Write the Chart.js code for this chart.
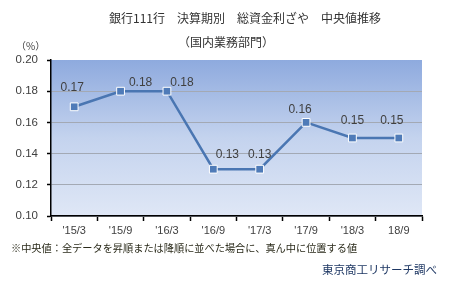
<!DOCTYPE html>
<html lang="ja">
<head>
  <meta charset="UTF-8">
  <title>総資金利ざや 中央値推移</title>
  <script src="https://cdn.jsdelivr.net/npm/chart.js"></script>
  <style>
    body {
      margin: 0;
      width: 449px;
      height: 282px;
      background: #fff;
      font-family: 'Noto Sans CJK JP', sans-serif;
      position: relative;
      overflow: hidden;
    }
    #wrap { position: absolute; left: 0; top: 0; width: 449px; height: 282px; }
    .txt { position: absolute; white-space: nowrap; color: #333; }
    #title { left: 0; width: 490px; top: 9px; text-align: center; font-size: 12px; }
    #sub { left: 0; width: 452px; top: 33px; text-align: center; font-size: 12px; }
    #unit { left: 16px; top: 38px; font-size: 10px; color: #404040; }
    #note { left: 11px; top: 240px; font-size: 10.2px; color: #2a2a1a; }
    #src { left: 322px; top: 261px; font-size: 11.5px; color: #1f3864; }
  </style>
</head>
<body>
  <div id="wrap"><canvas id="chart"></canvas></div>
  <div class="txt" id="title">銀行111行　決算期別　総資金利ざや　中央値推移</div>
  <div class="txt" id="sub">（国内業務部門）</div>
  <div class="txt" id="unit">（%）</div>
  <div class="txt" id="note">※中央値：全データを昇順または降順に並べた場合に、真ん中に位置する値</div>
  <div class="txt" id="src">東京商工リサーチ調べ</div>

  <script>
    const periods = ["'15/3", "'15/9", "'16/3", "'16/9", "'17/3", "'17/9", "'18/3", "18/9"];
    const medianSpread = [0.17, 0.18, 0.18, 0.13, 0.13, 0.16, 0.15, 0.15];
    const yTicks = [0.10, 0.12, 0.14, 0.16, 0.18, 0.20];

    // label nudges, like the Excel original
    const labelDx = [-2, 20, 15, 14, 0, -6, 0, -7];
    const labelDy = [-19, -9, -9, -15, -15, -13, -17, -17];

    const areaBg = {
      id: 'areaBg',
      beforeDraw(chart) {
        const { ctx, chartArea: a } = chart;
        const g = ctx.createLinearGradient(0, a.top, 0, a.bottom);
        g.addColorStop(0, '#8eaade');
        g.addColorStop(0.5, '#c4d3ee');
        g.addColorStop(1, '#dfe7f6');
        ctx.save();
        ctx.fillStyle = g;
        ctx.fillRect(a.left, a.top, a.right - a.left, a.bottom - a.top);
        ctx.restore();
      }
    };

    const valueLabels = {
      id: 'valueLabels',
      afterDatasetsDraw(chart) {
        const { ctx } = chart;
        const meta = chart.getDatasetMeta(0);
        ctx.save();
        ctx.font = '12px "Liberation Sans", Arial, sans-serif';
        ctx.fillStyle = '#404040';
        ctx.textAlign = 'center';
        ctx.textBaseline = 'middle';
        meta.data.forEach((pt, i) => {
          ctx.fillText(medianSpread[i].toFixed(2), pt.x + labelDx[i], pt.y + labelDy[i]);
        });
        ctx.restore();
      }
    };

    const isMajor = v => yTicks.some(t => Math.abs(t - v) < 1e-6);

    new Chart(document.getElementById('chart'), {
      type: 'line',
      data: {
        labels: periods,
        datasets: [{
          data: medianSpread,
          borderColor: '#4a76b2',
          borderWidth: 2.5,
          pointStyle: 'rect',
          pointRadius: 5.5,
          pointBackgroundColor: '#4f7bb8',
          pointBorderColor: '#ffffff',
          pointBorderWidth: 1,
          tension: 0
        }]
      },
      options: {
        responsive: true,
        maintainAspectRatio: false,
        animation: false,
        layout: { padding: { left: 0, top: 60, right: 27, bottom: 0 } },
        plugins: { legend: { display: false }, tooltip: { enabled: false } },
        scales: {
          x: {
            offset: true,
            afterFit: s => { s.height = 66; },
            border: { color: '#000', width: 1.5 },
            grid: { offset: true, drawOnChartArea: false, tickLength: 5, tickColor: '#000', tickWidth: 1.5 },
            ticks: { color: '#404040', padding: 3, font: { family: '"Liberation Sans", Arial', size: 11 } }
          },
          y: {
            min: 0.10,
            max: 0.20,
            afterFit: s => { s.width = 51; },
            afterBuildTicks: s => {
              s.ticks = [];
              for (let k = 10; k <= 20; k++) s.ticks.push({ value: k / 100 });
            },
            border: { color: '#000', width: 1.5 },
            grid: {
              color: ctx => ctx.tick && ctx.tick.value >= 0.195 ? 'rgba(0,0,0,0)' : '#a3a9b4',
              lineWidth: 1,
              tickLength: 4,
              tickColor: ctx => isMajor(ctx.tick.value) ? '#000' : 'rgba(0,0,0,0)',
              tickWidth: 1.5
            },
            ticks: {
              color: '#404040',
              padding: 9,
              font: { family: '"Liberation Sans", Arial', size: 11.5 },
              callback: v => isMajor(v) ? v.toFixed(2) : ''
            }
          }
        }
      },
      plugins: [areaBg, valueLabels]
    });
  </script>
</body>
</html>
